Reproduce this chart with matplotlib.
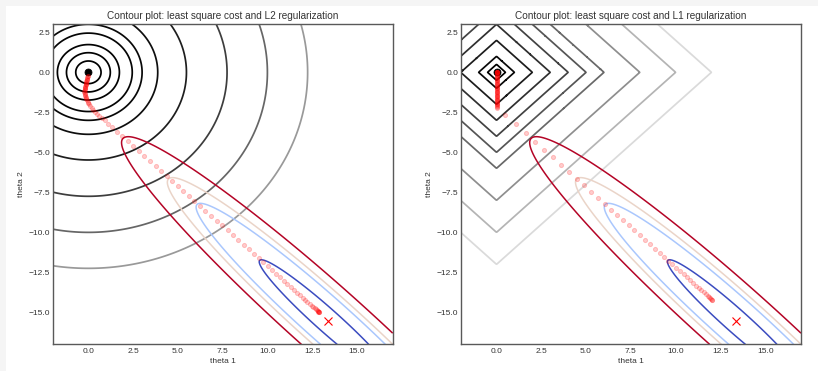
import numpy as np
import matplotlib
matplotlib.use("Agg")
import matplotlib.pyplot as plt
from matplotlib.patches import Rectangle

plt.rcParams['font.family'] = ['Liberation Sans', 'DejaVu Sans']

# ---------------- data ----------------
theta1_lim = (-2, 17)
theta2_lim = (-17, 3)
xticks = [0.0, 2.5, 5.0, 7.5, 10.0, 12.5, 15.0]
yticks = [2.5, 0.0, -2.5, -5.0, -7.5, -10.0, -12.5, -15.0]

l2_levels = [.5, 1.5, 3, 6, 9, 15, 30, 60, 100, 150, 250]
l1_levels = [.5, 1, 2, 3, 4, 5, 6, 8, 10, 12, 14]
ls_levels = [.06, .09, .11, .15]

# least-square cost bowl (read from the ellipses)
ls_center = (13.33, -15.5)
ls_min = 0.049
ls_major_dir = (1.0, -1.0)
ls_major_semi = 16.1   # semi axes of the 0.15 contour
ls_minor_semi = 2.07

min_reg = (0.0, 0.0)
min_ls = (13.36, -15.52)

# regularisation paths
l2_theta1 = [-0.04, -0.05, -0.06, -0.07, -0.08, -0.09, -0.10, -0.11, -0.12, -0.13,
             -0.14, -0.15, -0.16, -0.17, -0.18, -0.19, -0.20, -0.21, -0.21, -0.22,
             -0.22, -0.21, -0.20, -0.19, -0.18, -0.16, -0.14, -0.11, -0.08, -0.04,
             0.00, 0.05, 0.11, 0.18, 0.26, 0.35, 0.46, 0.59, 0.74, 0.90,
             1.10, 1.34, 1.61, 1.90, 2.20, 2.51, 2.82, 3.13, 3.44, 3.75,
             4.06, 4.37, 4.68, 4.99, 5.30, 5.61, 5.92, 6.23, 6.54, 6.85,
             7.16, 7.47, 7.78, 8.08, 8.38, 8.67, 8.96, 9.24, 9.51, 9.77,
             10.02, 10.26, 10.49, 10.71, 10.92, 11.12, 11.31, 11.49, 11.66, 11.82,
             11.97, 12.11, 12.24, 12.36, 12.47, 12.57, 12.65, 12.71, 12.76, 12.80,
             12.83, 12.85, 12.87, 12.88, 12.89]
l2_theta2 = [-0.20, -0.25, -0.30, -0.35, -0.40, -0.45, -0.50, -0.55, -0.60, -0.65,
             -0.70, -0.75, -0.80, -0.85, -0.90, -0.95, -1.00, -1.06, -1.12, -1.18,
             -1.24, -1.30, -1.36, -1.42, -1.48, -1.55, -1.62, -1.69, -1.76, -1.84,
             -1.92, -2.01, -2.11, -2.22, -2.34, -2.47, -2.60, -2.74, -2.87, -3.01,
             -3.20, -3.44, -3.71, -4.00, -4.30, -4.61, -4.92, -5.23, -5.54, -5.85,
             -6.16, -6.47, -6.78, -7.09, -7.40, -7.71, -8.02, -8.33, -8.64, -8.95,
             -9.26, -9.57, -9.88, -10.18, -10.48, -10.77, -11.06, -11.34, -11.61, -11.87,
             -12.12, -12.36, -12.59, -12.81, -13.02, -13.22, -13.41, -13.59, -13.76, -13.92,
             -14.07, -14.21, -14.34, -14.46, -14.57, -14.67, -14.75, -14.81, -14.86, -14.90,
             -14.93, -14.95, -14.97, -14.98, -14.99]

l1_theta1 = [0.0, 0.0, 0.0, 0.0, 0.0, 0.0, 0.0, 0.0,
             0.0, 0.0, 0.0, 0.0, 0.0, 0.0, 0.0, 0.0, 0.0, 0.0,
             0.0, 0.0, 0.0, 0.0, 0.0, 0.0, 0.0, 0.0, 0.0, 0.0,
             0.0, 0.0, 0.0, 0.0, 0.0, 0.0, 0.0, 0.0, 0.0, 0.0,
             0.0, 0.0, 0.0, 0.0, 0.0, 0.0, 0.0, 0.0, 0.0, 0.0,
             0.0, 0.0, 0.0, 0.0,
             0.47, 1.06, 1.62, 2.16, 2.66, 3.13, 3.59, 4.04, 4.47, 4.88,
             5.28, 5.67, 6.04, 6.40, 6.74, 7.07, 7.39, 7.70, 8.00, 8.29,
             8.57, 8.84, 9.10, 9.35, 9.59, 9.82, 10.04, 10.25, 10.45, 10.64,
             10.82, 10.99, 11.15, 11.30, 11.44, 11.57, 11.68, 11.78, 11.86, 11.93,
             11.98, 12.02, 12.05]
l1_theta2 = [0.0, 0.0, 0.0, 0.0, 0.0, 0.0, 0.0, 0.0,
             -0.05, -0.10, -0.15, -0.20, -0.25, -0.30, -0.35, -0.40, -0.45, -0.50,
             -0.55, -0.60, -0.65, -0.70, -0.75, -0.80, -0.85, -0.90, -0.95, -1.00,
             -1.05, -1.10, -1.15, -1.20, -1.25, -1.30, -1.35, -1.40, -1.45, -1.50,
             -1.55, -1.60, -1.65, -1.70, -1.75, -1.80, -1.85, -1.90, -1.95, -2.00,
             -2.05, -2.10, -2.15, -2.20,
             -2.65, -3.24, -3.80, -4.34, -4.84, -5.31, -5.77, -6.22, -6.65, -7.06,
             -7.46, -7.85, -8.22, -8.58, -8.92, -9.25, -9.57, -9.88, -10.18, -10.47,
             -10.75, -11.02, -11.28, -11.53, -11.77, -12.00, -12.22, -12.43, -12.63, -12.82,
             -13.00, -13.17, -13.33, -13.48, -13.62, -13.75, -13.86, -13.96, -14.04, -14.11,
             -14.16, -14.20, -14.23]

titles = ['Contour plot: least square cost and L2 regularization',
          'Contour plot: least square cost and L1 regularization']

# ---------------- cost surfaces ----------------
xx, yy = np.meshgrid(np.linspace(theta1_lim[0], theta1_lim[1], 500),
                     np.linspace(theta2_lim[0], theta2_lim[1], 500))
Z_l2 = xx ** 2 + yy ** 2
Z_l1 = np.abs(xx) + np.abs(yy)

u = np.array(ls_major_dir) / np.hypot(*ls_major_dir)
v = np.array([-u[1], u[0]])
dx = xx - ls_center[0]
dy = yy - ls_center[1]
du = dx * u[0] + dy * u[1]
dv = dx * v[0] + dy * v[1]
k_major = (max(ls_levels) - ls_min) / ls_major_semi ** 2
k_minor = (max(ls_levels) - ls_min) / ls_minor_semi ** 2
Z_ls = ls_min + k_major * du ** 2 + k_minor * dv ** 2

# ---------------- figure ----------------
W, H = 818, 371
fig = plt.figure(figsize=(W / 100, H / 100), dpi=100)
fig.patch.set_facecolor('#f5f5f5')
fig.add_artist(Rectangle((6 / W, 0), 1, 1 - 6 / H, transform=fig.transFigure,
                         facecolor='white', edgecolor='none', zorder=-5))

ax1 = fig.add_axes([52.6 / W, 1 - 344.4 / H, 340.1 / W, 320.1 / H])
ax2 = fig.add_axes([460.7 / W, 1 - 344.4 / H, 340.3 / W, 320.1 / H])

lw = 1.25
panels = [
    (ax1, Z_l2, l2_levels, l2_theta1, l2_theta2, titles[0]),
    (ax2, Z_l1, l1_levels, l1_theta1, l1_theta2, titles[1]),
]
for ax, Zreg, lev, p1, p2, title in panels:
    ax.contour(xx, yy, Zreg, levels=lev, cmap='gist_gray', linewidths=lw)
    ax.contour(xx, yy, Z_ls, levels=ls_levels, cmap='coolwarm', linewidths=1.1)
    ax.plot(min_reg[0], min_reg[1], marker='o', color='black', markersize=5.0,
            markeredgewidth=0.6, linestyle='none')
    ax.plot(min_ls[0], min_ls[1], marker='x', color='red', markersize=6.3,
            markeredgewidth=0.8, linestyle='none')
    ax.plot(p1, p2, linestyle='none', marker='o', color='red', alpha=.2,
            markersize=3.0, markeredgewidth=0.7)
    ax.set_xlim(*theta1_lim)
    ax.set_ylim(*theta2_lim)
    ax.set_xticks(xticks)
    ax.set_yticks(yticks)
    ax.set_xticklabels([f'{t:.1f}'.replace('-', '\u2212') for t in xticks])
    ax.set_yticklabels([f'{t:.1f}'.replace('-', '\u2212') for t in yticks])
    ax.tick_params(length=0, labelsize=6, labelcolor='0.2')
    ax.tick_params(axis='x', pad=2.4)
    ax.tick_params(axis='y', pad=1.8)
    ax.set_xlabel('theta 1', fontsize=6, color='0.2', labelpad=2.3)
    ax.set_ylabel('theta 2', fontsize=6, color='0.2', labelpad=2.5)
    ax.set_title(title, fontsize=7.2, color='0.2', pad=3.5)
    for s in ax.spines.values():
        s.set_color('0.35')
        s.set_linewidth(1.0)

fig.savefig('out.png', dpi=100, facecolor=fig.get_facecolor())
